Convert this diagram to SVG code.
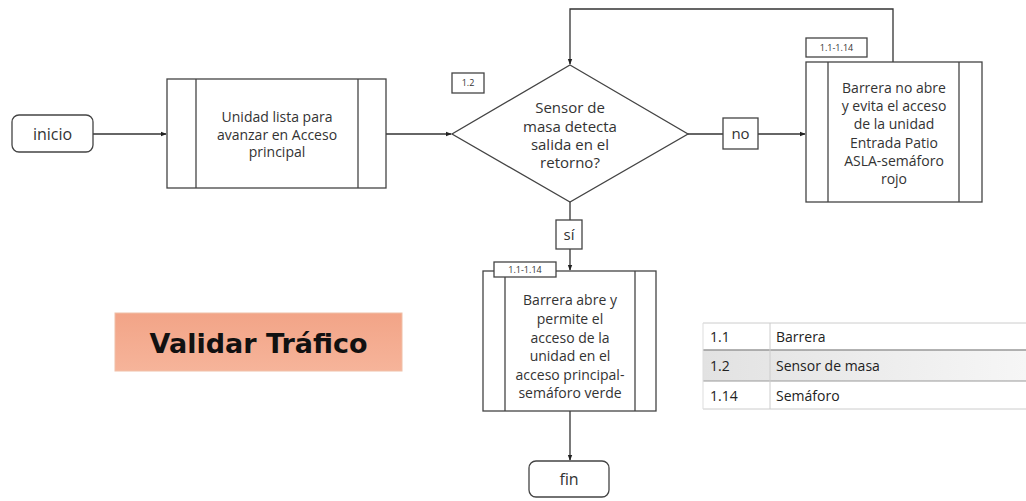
<svg xmlns="http://www.w3.org/2000/svg" width="1026" height="501" viewBox="0 0 1026 501">
<defs>
<marker id="ah" viewBox="0 0 8 8" refX="7" refY="4" markerWidth="6" markerHeight="6" orient="auto" markerUnits="userSpaceOnUse">
<path d="M0,1 L8,4 L0,7 Z" fill="#222"/>
</marker>
<linearGradient id="sal" x1="0" y1="0" x2="0" y2="1">
<stop offset="0" stop-color="#f2a487"/>
<stop offset="1" stop-color="#f6b49a"/>
</linearGradient>
<linearGradient id="gr" x1="0" y1="0" x2="1" y2="0">
<stop offset="0" stop-color="#e2e2e2"/>
<stop offset="1" stop-color="#f6f6f6"/>
</linearGradient>
<style>
.b{fill:#fff;stroke:#444;stroke-width:1.3}
.l{fill:none;stroke:#444;stroke-width:1.3}
.t{font-family:"Open Sans","Lato",sans-serif;font-size:14px;fill:#333;text-anchor:middle}
.s{font-family:"Open Sans",sans-serif;font-size:9px;fill:#333;text-anchor:middle}
.c{fill:none;stroke:#333;stroke-width:1.3}
.tb{font-family:"Open Sans","Lato",sans-serif;font-size:14px;fill:#222}
</style>
</defs>
<rect width="1026" height="501" fill="#fff"/>

<g id="connectors">
<line class="c" x1="93" y1="134" x2="166" y2="134" marker-end="url(#ah)"/>
<line class="c" x1="386" y1="134" x2="451" y2="134" marker-end="url(#ah)"/>
<line class="c" x1="688" y1="134" x2="723" y2="134"/>
<line class="c" x1="758" y1="134" x2="805" y2="134" marker-end="url(#ah)"/>
<polyline class="c" points="893,62 893,9 570,9 570,64" marker-end="url(#ah)"/>
<line class="c" x1="570" y1="202" x2="570" y2="220"/>
<line class="c" x1="570" y1="249" x2="570" y2="270" marker-end="url(#ah)"/>
<line class="c" x1="570" y1="411" x2="570" y2="460" marker-end="url(#ah)"/>
</g>

<g id="inicio">
<rect class="b" x="12" y="115" width="81" height="37" rx="7"/>
<text class="t" x="52.5" y="139.5" style="font-size:16px">inicio</text>
</g>

<g id="unidad">
<rect class="b" x="167" y="79" width="219" height="109"/>
<line class="l" x1="196" y1="79" x2="196" y2="188"/>
<line class="l" x1="358" y1="79" x2="358" y2="188"/>
<text class="t" x="277" y="122">Unidad lista para</text>
<text class="t" x="277" y="140">avanzar en Acceso</text>
<text class="t" x="277" y="157">principal</text>
</g>

<g id="sensor">
<polygon class="b" points="570,65 688,134 570,202 452,134"/>
<text class="t" x="570" y="113" style="font-size:15px">Sensor de</text>
<text class="t" x="570" y="132" style="font-size:15px">masa detecta</text>
<text class="t" x="570" y="150" style="font-size:15px">salida en el</text>
<text class="t" x="570" y="168" style="font-size:15px">retorno?</text>
<rect class="b" x="452" y="73" width="32" height="20"/>
<text class="s" x="468" y="86">1.2</text>
</g>

<g id="no-label">
<rect class="b" x="723" y="118" width="35" height="31"/>
<text class="t" x="740.5" y="139" style="font-size:15px">no</text>
</g>

<g id="barrera-no">
<rect class="b" x="806" y="62" width="176" height="140"/>
<line class="l" x1="828" y1="62" x2="828" y2="202"/>
<line class="l" x1="959" y1="62" x2="959" y2="202"/>
<text class="t" x="894" y="93">Barrera no abre</text>
<text class="t" x="894" y="111">y evita el acceso</text>
<text class="t" x="894" y="129">de la unidad</text>
<text class="t" x="894" y="148">Entrada Patio</text>
<text class="t" x="894" y="166">ASLA-semáforo</text>
<text class="t" x="894" y="184">rojo</text>
<rect class="b" x="806" y="38" width="61" height="19"/>
<text class="s" x="836.5" y="51">1.1-1.14</text>
</g>

<g id="si-label">
<rect class="b" x="556" y="220" width="26" height="29"/>
<text class="t" x="569" y="240" style="font-size:15px">sí</text>
</g>

<g id="barrera-si">
<rect class="b" x="483" y="271" width="173" height="140"/>
<line class="l" x1="505" y1="271" x2="505" y2="411"/>
<line class="l" x1="635" y1="271" x2="635" y2="411"/>
<text class="t" x="570" y="305">Barrera abre y</text>
<text class="t" x="570" y="324">permite el</text>
<text class="t" x="570" y="343">acceso de la</text>
<text class="t" x="570" y="361">unidad en el</text>
<text class="t" x="570" y="380">acceso principal-</text>
<text class="t" x="570" y="398">semáforo verde</text>
<rect class="b" x="494" y="262" width="62" height="15"/>
<text class="s" x="525" y="273">1.1-1.14</text>
</g>

<g id="fin">
<rect class="b" x="529" y="461" width="80" height="36" rx="7"/>
<text class="t" x="569" y="485" style="font-size:16px">fin</text>
</g>

<g id="titulo">
<rect x="115" y="313" width="287" height="58" fill="url(#sal)" stroke="#f0c0a8" stroke-width="1"/>
<text x="258.5" y="353" text-anchor="middle" font-family="'DejaVu Sans',Verdana,sans-serif" font-weight="bold" font-size="27" fill="#111">Validar Tráfico</text>
</g>

<g id="leyenda">
<rect x="703" y="323" width="323" height="27" fill="#fff"/>
<rect x="703" y="350" width="323" height="31" fill="url(#gr)"/>
<rect x="703" y="381" width="323" height="28" fill="#fff"/>
<line x1="703" y1="323" x2="1026" y2="323" stroke="#ccc" stroke-width="1"/>
<line x1="703" y1="350" x2="1026" y2="350" stroke="#999" stroke-width="1.5"/>
<line x1="703" y1="381" x2="1026" y2="381" stroke="#999" stroke-width="1"/>
<line x1="703" y1="409" x2="1026" y2="409" stroke="#ccc" stroke-width="1"/>
<line x1="770" y1="323" x2="770" y2="409" stroke="#ccc" stroke-width="1"/>
<line x1="703" y1="323" x2="703" y2="409" stroke="#ddd" stroke-width="1"/>
<text class="tb" x="710" y="342">1.1</text>
<text class="tb" x="776" y="342">Barrera</text>
<text class="tb" x="710" y="371">1.2</text>
<text class="tb" x="776" y="371">Sensor de masa</text>
<text class="tb" x="710" y="401">1.14</text>
<text class="tb" x="776" y="401">Semáforo</text>
</g>
</svg>
